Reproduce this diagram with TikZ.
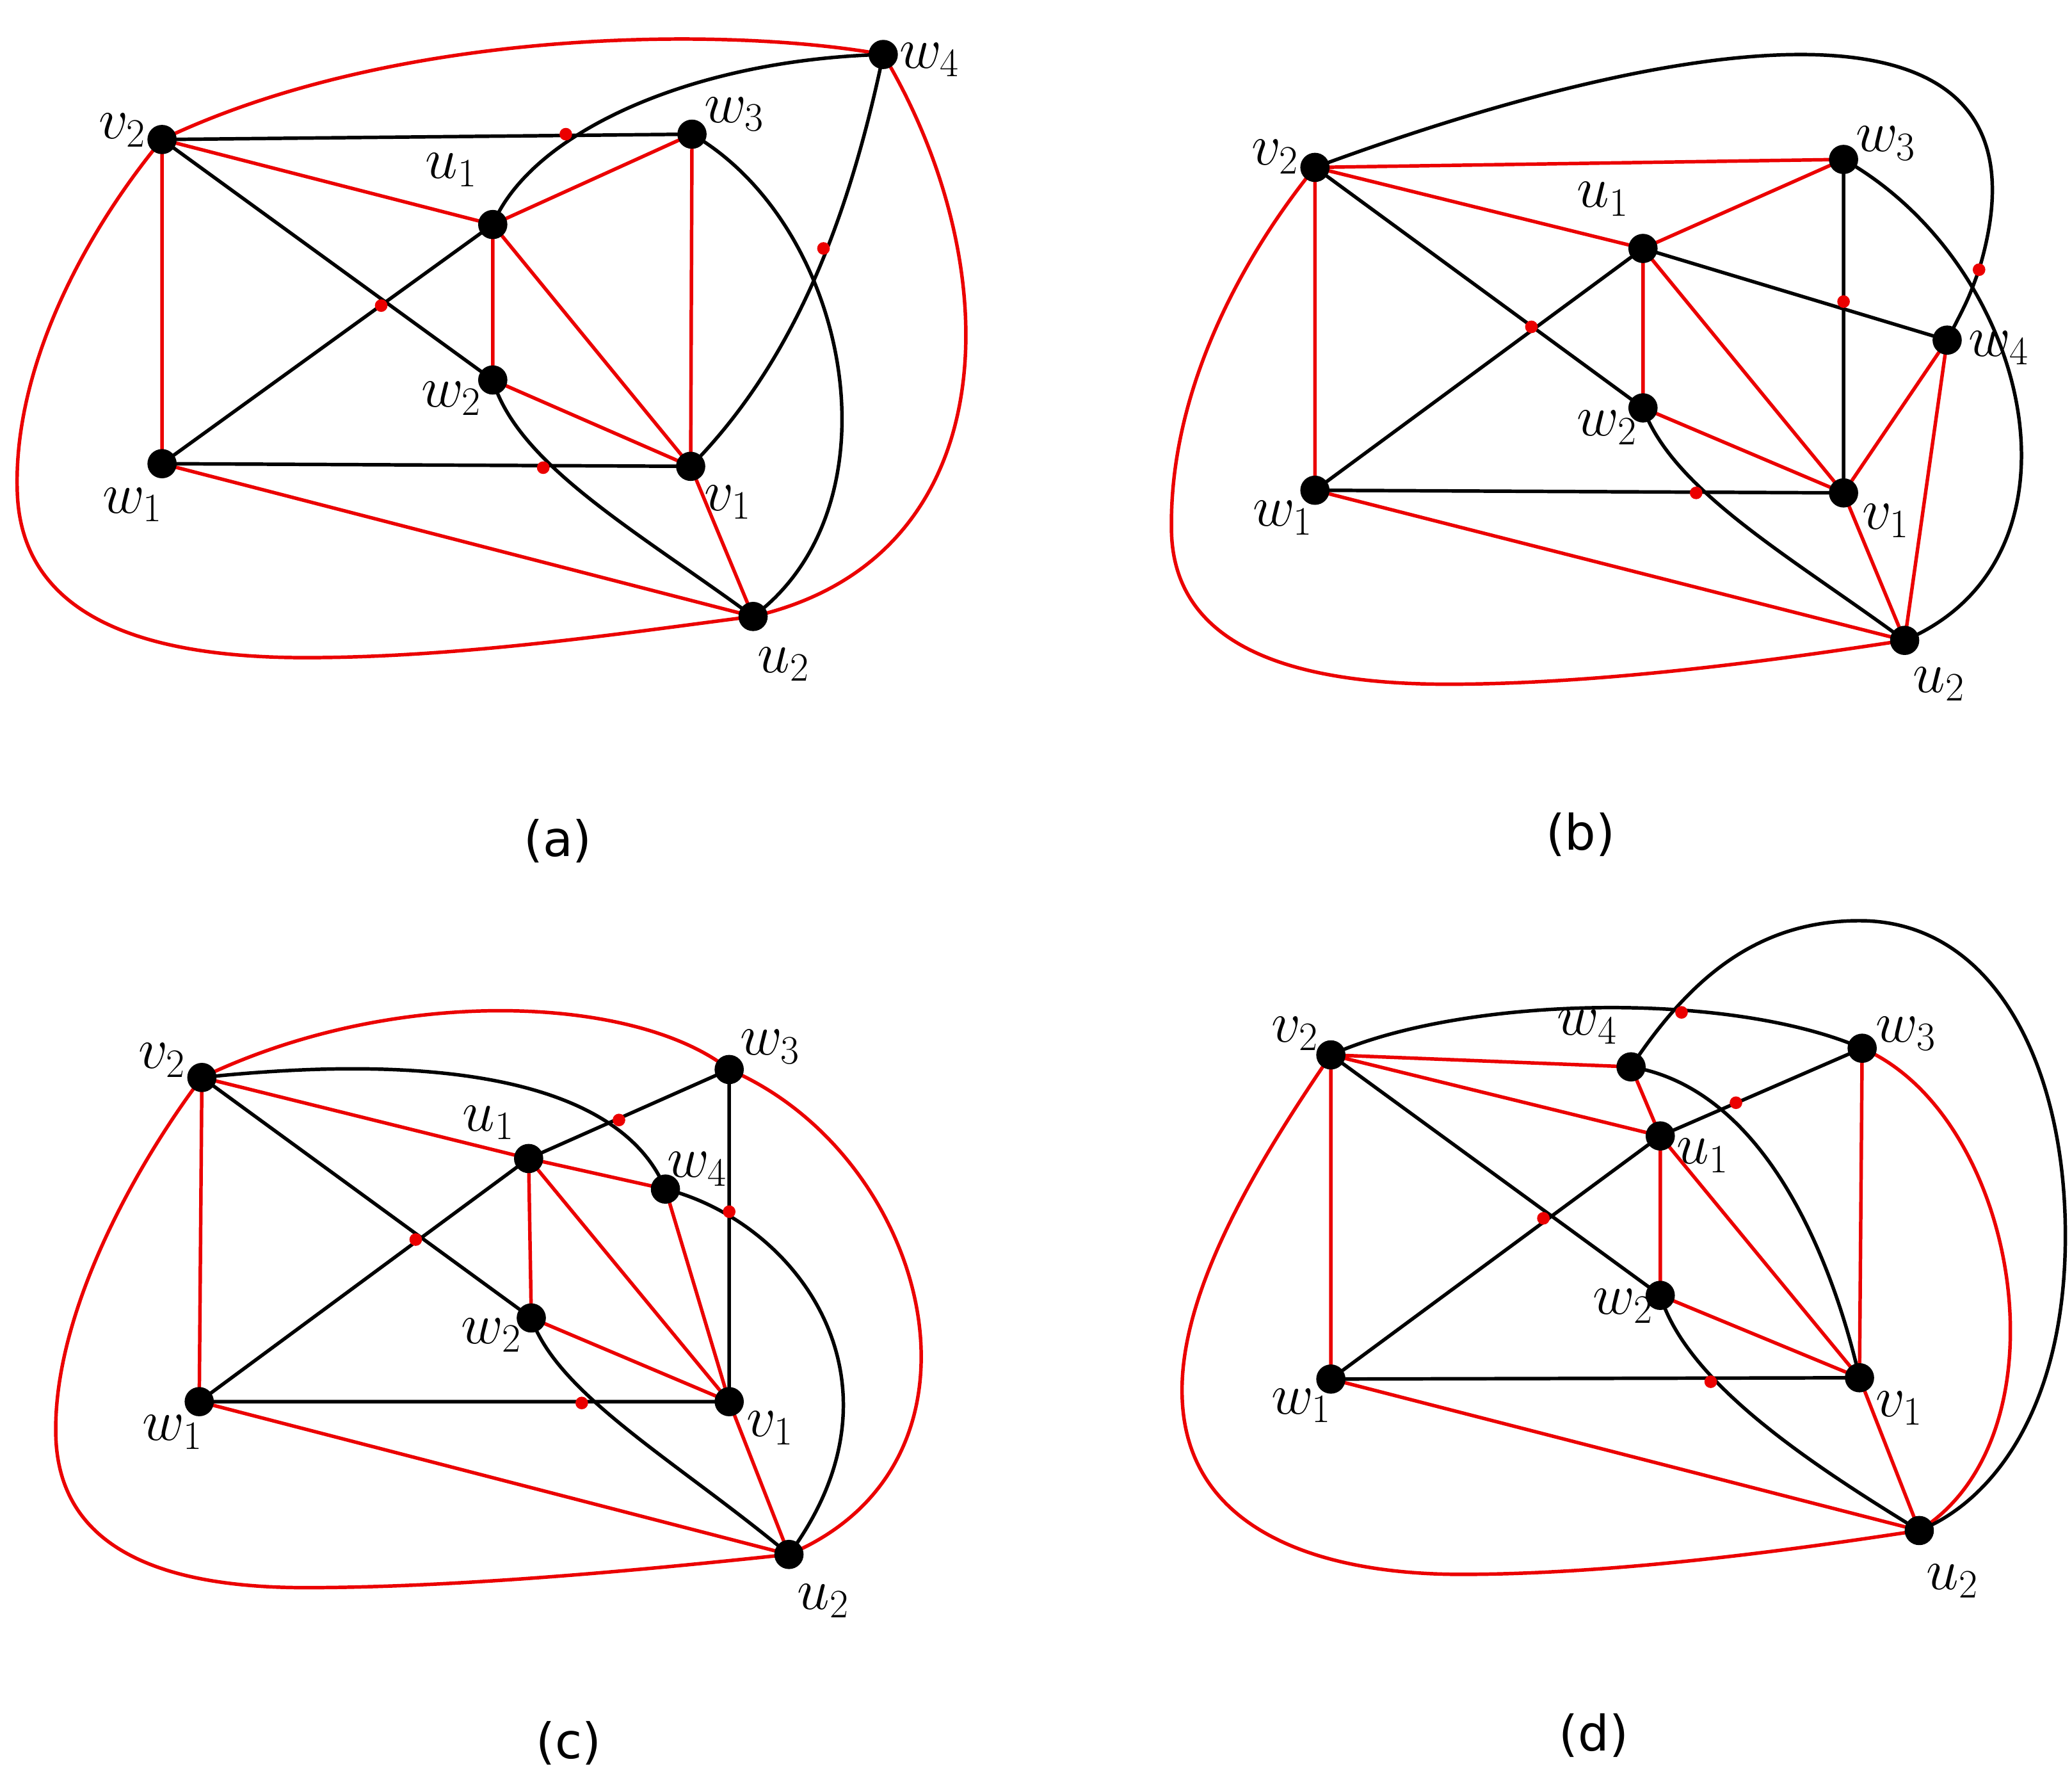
\documentclass[tikz,border=0pt]{standalone}
\usepackage{fontspec}
\newfontfamily\capfont{DejaVu Sans}
\definecolor{rd}{RGB}{235,0,0}
\begin{document}
\begin{tikzpicture}[x=0.02cm,y=-0.02cm,
  vx/.style={circle,fill=black,inner sep=0pt,minimum size=0.44cm},
  dt/.style={circle,fill=rd,inner sep=0pt,minimum size=0.19cm},
  re/.style={draw=rd,line width=1.5pt},
  be/.style={draw=black,line width=1.5pt},
  lb/.style={font=\fontsize{25}{30}\selectfont},
  captext/.style={font=\capfont\fontsize{21}{25}\selectfont}]
\useasboundingbox (0,0) rectangle (1560,1333);
% ---------- (a)
\coordinate (av2) at (122,105); \coordinate (au1) at (371,169); \coordinate (aw3) at (521,101);
\coordinate (aw4) at (665,41); \coordinate (aw2) at (371,286); \coordinate (aw1) at (122,349);
\coordinate (av1) at (520,351); \coordinate (au2) at (567,464);
\path[re] (av2)--(aw1) (av2)--(au1) (au1)--(aw3) (aw3)--(av1) (au1)--(aw2) (au1)--(av1) (aw2)--(av1) (av1)--(au2) (aw1)--(au2);
\path[re] (av2) .. controls (300,20) and (550,20) .. (aw4);
\path[re] (aw4) .. controls (760,200) and (760,420) .. (au2);
\path[re] (av2) .. controls (60,180) and (10,280) .. (13,370) .. controls (16,470) and (120,495) .. (230,495) .. controls (350,495) and (480,475) .. (au2);
\path[be] (av2)--(aw3) (av2)--(aw2) (aw1)--(au1) (aw1)--(av1);
\path[be] (au1) .. controls (400,100) and (520,45) .. (aw4);
\path[be] (aw4) .. controls (640,160) and (600,270) .. (av1);
\path[be] (aw3) .. controls (640,170) and (680,380) .. (au2);
\path[be] (aw2) .. controls (390,350) and (480,400) .. (au2);
\node[dt] (ad1) at (426,101) {}; \node[dt] (ad2) at (287,230) {}; \node[dt] (ad3) at (620,187) {}; \node[dt] (ad4) at (409,352) {};
\foreach \n in {av2,au1,aw3,aw4,aw2,aw1,av1,au2} \node[vx] (\n n) at (\n) {};
\node[lb] (alv2) at (92,98) {$v_2$}; \node[lb] (alu1) at (340,128) {$u_1$}; \node[lb] (alw3) at (553,86) {$w_3$};
\node[lb] (alw4) at (700,45) {$w_4$}; \node[lb] (alw2) at (340,300) {$w_2$}; \node[lb] (alw1) at (100,380) {$w_1$};
\node[lb] (alv1) at (548,378) {$v_1$}; \node[lb] (alu2) at (590,500) {$u_2$};
\node[captext] (acap) at (420,633) {(a)};
% ---------- (b)
\coordinate (bv2) at (990,126); \coordinate (bw3) at (1388,120); \coordinate (bu1) at (1237,187);
\coordinate (bw4) at (1466,256); \coordinate (bw2) at (1237,307); \coordinate (bw1) at (990,369);
\coordinate (bv1) at (1388,371); \coordinate (bu2) at (1434,482);
\path[re] (bv2)--(bw1) (bv2)--(bw3) (bv2)--(bu1) (bu1)--(bw3) (bu1)--(bw2) (bu1)--(bv1) (bw2)--(bv1) (bv1)--(bw4) (bw4)--(bu2) (bv1)--(bu2) (bw1)--(bu2);
\path[re] (bv2) .. controls (930,200) and (880,300) .. (882,400) .. controls (884,490) and (980,515) .. (1090,515) .. controls (1210,515) and (1350,495) .. (bu2);
\path[be] (bv2)--(bw2) (bw1)--(bu1) (bw1)--(bv1) (bw3)--(bv1) (bu1)--(bw4);
\path[be] (bv2) .. controls (1250,30) and (1560,-30) .. (1490,203) .. controls (1482,225) .. (bw4);
\path[be] (bw3) .. controls (1530,200) and (1580,420) .. (bu2);
\path[be] (bw2) .. controls (1260,370) and (1350,420) .. (bu2);
\node[dt] (bd1) at (1153,246) {}; \node[dt] (bd2) at (1388,227) {}; \node[dt] (bd3) at (1490,203) {}; \node[dt] (bd4) at (1277,371) {};
\foreach \n in {bv2,bw3,bu1,bw4,bw2,bw1,bv1,bu2} \node[vx] (\n n) at (\n) {};
\node[lb] (blv2) at (960,118) {$v_2$}; \node[lb] (blw3) at (1420,108) {$w_3$}; \node[lb] (blu1) at (1207,150) {$u_1$};
\node[lb] (blw4) at (1505,262) {$w_4$}; \node[lb] (blw2) at (1210,322) {$w_2$}; \node[lb] (blw1) at (966,390) {$w_1$};
\node[lb] (blv1) at (1420,392) {$v_1$}; \node[lb] (blu2) at (1460,515) {$u_2$};
\node[captext] (bcap) at (1190,628) {(b)};
% ---------- (c)
\coordinate (cv2) at (152,811); \coordinate (cw3) at (549,805); \coordinate (cu1) at (398,872);
\coordinate (cw4) at (501,895); \coordinate (cw2) at (400,992); \coordinate (cw1) at (150,1055);
\coordinate (cv1) at (549,1055); \coordinate (cu2) at (594,1170);
\path[re] (cv2)--(cw1) (cv2)--(cu1) (cu1)--(cw4) (cu1)--(cw2) (cu1)--(cv1) (cw4)--(cv1) (cw2)--(cv1) (cv1)--(cu2) (cw1)--(cu2);
\path[re] (cv2) .. controls (300,740) and (480,750) .. (cw3);
\path[re] (cw3) .. controls (700,870) and (760,1100) .. (cu2);
\path[re] (cv2) .. controls (100,880) and (40,990) .. (42,1080) .. controls (44,1170) and (130,1195) .. (230,1195) .. controls (350,1195) and (500,1180) .. (cu2);
\path[be] (cv2)--(cw2) (cw1)--(cu1) (cw1)--(cv1) (cu1)--(cw3) (cw3)--(cv1);
\path[be] (cv2) .. controls (350,790) and (470,820) .. (cw4);
\path[be] (cw4) .. controls (600,920) and (690,1040) .. (cu2);
\path[be] (cw2) .. controls (420,1050) and (510,1100) .. (cu2);
\node[dt] (cd1) at (466,843) {}; \node[dt] (cd2) at (313,933) {}; \node[dt] (cd3) at (549,912) {}; \node[dt] (cd4) at (438,1056) {};
\foreach \n in {cv2,cw3,cu1,cw4,cw2,cw1,cv1,cu2} \node[vx] (\n n) at (\n) {};
\node[lb] (clv2) at (122,798) {$v_2$}; \node[lb] (clw3) at (580,788) {$w_3$}; \node[lb] (clu1) at (368,845) {$u_1$};
\node[lb] (clw4) at (525,880) {$w_4$}; \node[lb] (clw2) at (370,1005) {$w_2$}; \node[lb] (clw1) at (130,1078) {$w_1$};
\node[lb] (clv1) at (580,1075) {$v_1$}; \node[lb] (clu2) at (620,1205) {$u_2$};
\node[captext] (ccap) at (428,1312) {(c)};
% ---------- (d)
\coordinate (dv2) at (1002,794); \coordinate (dw4) at (1228,803); \coordinate (dw3) at (1402,789);
\coordinate (du1) at (1250,855); \coordinate (dw2) at (1250,975); \coordinate (dw1) at (1002,1038);
\coordinate (dv1) at (1400,1037); \coordinate (du2) at (1445,1152);
\path[re] (dv2)--(dw1) (dv2)--(dw4) (dv2)--(du1) (dw4)--(du1) (du1)--(dw2) (du1)--(dv1) (dw2)--(dv1) (dw3)--(dv1) (dv1)--(du2) (dw1)--(du2);
\path[re] (dw3) .. controls (1520,840) and (1560,1080) .. (du2);
\path[re] (dv2) .. controls (950,870) and (888,970) .. (890,1050) .. controls (892,1150) and (990,1185) .. (1100,1185) .. controls (1220,1185) and (1360,1165) .. (du2);
\path[be] (dv2)--(dw2) (dw1)--(du1) (du1)--(dw3) (dw1)--(dv1);
\path[be] (dv2) .. controls (1100,750) and (1300,745) .. (dw3);
\path[be] (dw4) .. controls (1270,740) and (1320,693) .. (1400,693) .. controls (1500,693) and (1555,800) .. (1555,930) .. controls (1555,1060) and (1500,1130) .. (du2);
\path[be] (dw4) .. controls (1330,820) and (1380,950) .. (dv1);
\path[be] (dw2) .. controls (1270,1040) and (1360,1100) .. (du2);
\node[dt] (dd1) at (1266,762) {}; \node[dt] (dd2) at (1307,830) {}; \node[dt] (dd3) at (1162,917) {}; \node[dt] (dd4) at (1288,1040) {};
\foreach \n in {dv2,dw4,dw3,du1,dw2,dw1,dv1,du2} \node[vx] (\n n) at (\n) {};
\node[lb] (dlv2) at (975,778) {$v_2$}; \node[lb] (dlw4) at (1195,773) {$w_4$}; \node[lb] (dlw3) at (1435,778) {$w_3$};
\node[lb] (dlu1) at (1282,870) {$u_1$}; \node[lb] (dlw2) at (1222,983) {$w_2$}; \node[lb] (dlw1) at (980,1058) {$w_1$};
\node[lb] (dlv1) at (1430,1060) {$v_1$}; \node[lb] (dlu2) at (1470,1190) {$u_2$};
\node[captext] (dcap) at (1200,1306) {(d)};
\end{tikzpicture}
\end{document}
